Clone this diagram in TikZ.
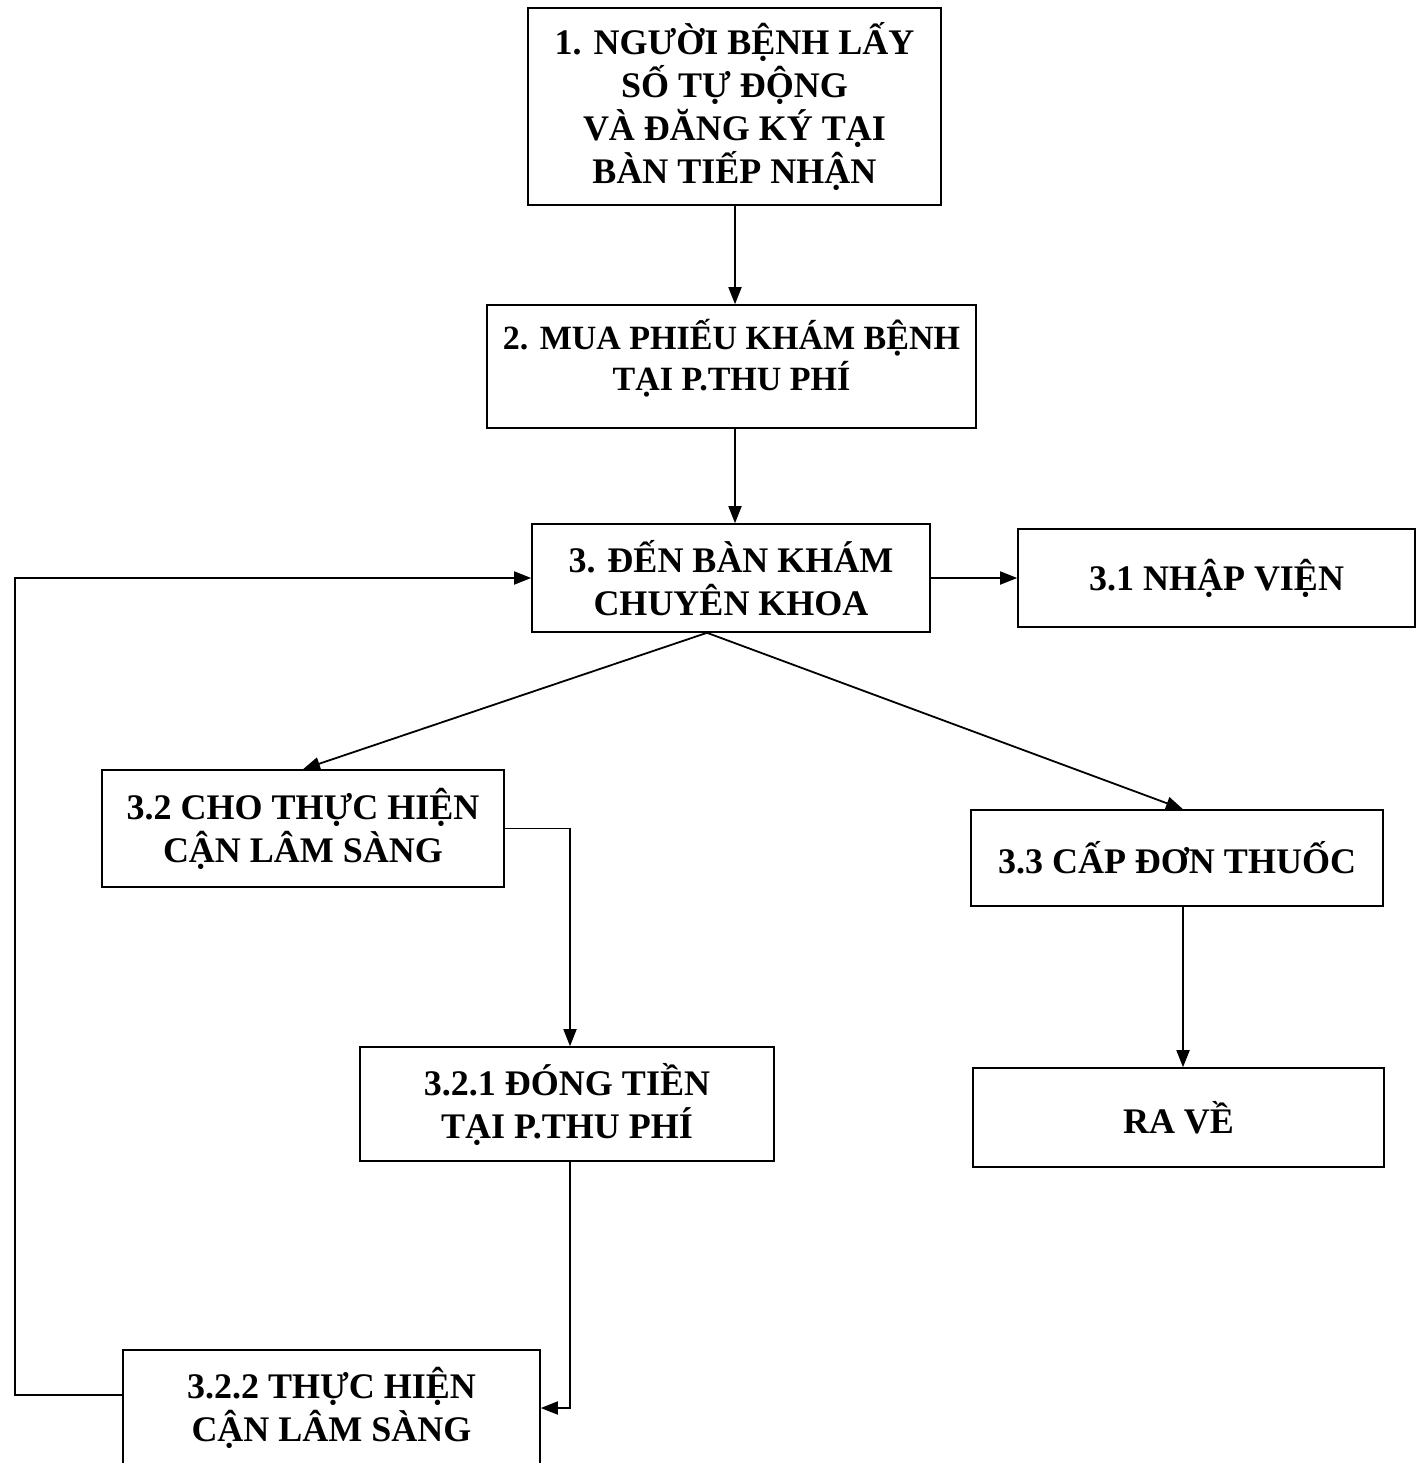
\documentclass[tikz,border=0pt]{standalone}
\usepackage{fontspec}
\setmainfont{Liberation Serif}
\usetikzlibrary{arrows.meta}
\begin{document}
\begin{tikzpicture}[x=1pt,y=-1pt,
  box/.style={draw,line width=1.6pt,rectangle,align=center,inner sep=0pt,
    font=\bfseries\fontsize{36}{43}\selectfont},
  arr/.style={line width=1.8pt,-{Triangle[length=17pt,width=13pt]}}]
\clip (0,0) rectangle (1420,1463);
\useasboundingbox (0,0) rectangle (1420,1463);
\fill[white] (0,0) rectangle (1420,1463);
\node[box,minimum width=413pt,minimum height=197pt] (n1) at (734.5,106.5)
  {1. NGƯỜI BỆNH LẤY\\SỐ TỰ ĐỘNG\\VÀ ĐĂNG KÝ TẠI\\BÀN TIẾP NHẬN};
\node[box,minimum width=489pt,minimum height=123pt,
  font=\bfseries\fontsize{34}{41}\selectfont] (n2) at (731.5,366.5)
  {2. MUA PHIẾU KHÁM BỆNH\\TẠI P.THU PHÍ\\[-30pt]\strut};
\node[box,minimum width=398pt,minimum height=108pt] (n3) at (731,578)
  {3. ĐẾN BÀN KHÁM\\CHUYÊN KHOA};
\node[box,minimum width=397pt,minimum height=98pt] (n31) at (1216.5,578)
  {3.1 NHẬP VIỆN};
\node[box,minimum width=402pt,minimum height=117pt] (n32) at (303,828.5)
  {3.2 CHO THỰC HIỆN\\CẬN LÂM SÀNG};
\node[box,minimum width=412pt,minimum height=96pt] (n33) at (1177,858)
  {3.3 CẤP ĐƠN THUỐC};
\node[box,minimum width=414pt,minimum height=114pt] (n321) at (567,1104)
  {3.2.1 ĐÓNG TIỀN\\TẠI P.THU PHÍ};
\node[box,minimum width=411pt,minimum height=99pt] (nra) at (1178.5,1117.5)
  {RA VỀ};
\node[box,minimum width=417pt,minimum height=116pt] (n322) at (331.5,1408)
  {3.2.2 THỰC HIỆN\\CẬN LÂM SÀNG};
\coordinate (split) at ([xshift=-24pt]n3.south);
\coordinate (lb) at (15,1395);
\draw[arr] ([xshift=0.5pt]n1.south) -- ([xshift=0.5pt]n1.south |- n2.north);
\draw[arr] ([xshift=0.5pt]n1.south |- n2.south) -- ([xshift=0.5pt]n1.south |- n3.north);
\draw[arr] (n3.east) -- (n31.west);
\draw[arr] (split) -- (n32.north);
\draw[arr] (split) -- ([xshift=6pt]n33.north);
\draw[arr] (n32.east) -| ([xshift=3pt]n321.north);
\draw[arr] ([xshift=3pt]n321.south) |- (n322.east);
\draw[arr] ([yshift=13pt]n322.west) -- (lb) |- (n3.west);
\draw[arr] ([xshift=6pt]n33.south) -- ([xshift=6pt]n33.south |- nra.north);
\end{tikzpicture}
\end{document}
